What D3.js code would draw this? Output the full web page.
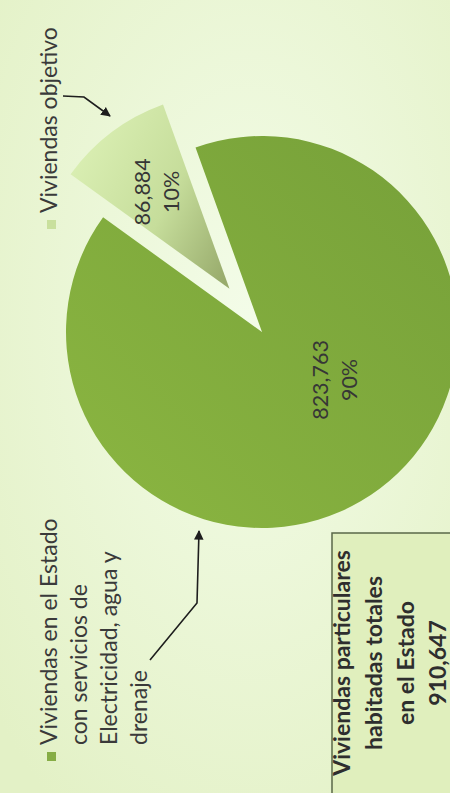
<!DOCTYPE html>
<html><head><meta charset="utf-8">
<script src="https://cdn.jsdelivr.net/npm/d3@7"></script>
<style>html,body{margin:0;padding:0;background:#edf8da;overflow:hidden} svg{display:block}</style>
</head><body>
<svg id="chart" width="450" height="793"></svg>
<script>
// ---- data ----
const categories = ["Viviendas en el Estado con servicios de Electricidad, agua y drenaje", "Viviendas objetivo"];
const values = [823763, 86884];
const valueLabels = ["823,763", "86,884"];
const percentLabels = ["90%", "10%"];
const legendLines1 = ["Viviendas en el Estado", "con servicios de", "Electricidad, agua y", "drenaje"];
const legendLines2 = ["Viviendas objetivo"];
const totalLines = ["Viviendas particulares", "habitadas totales", "en el Estado", "910,647"];

// ---- layout ----
const W = 450, H = 793;
const cx = 262, cy = 332, R = 196, explode = 54;
const midSmallDeg = 323;
const FONT = "Lato, 'Open Sans', 'DejaVu Sans', sans-serif";
const sliceColors = ["url(#gMain)", "url(#gLight)"];
const legendColors = ["#86ad45", "#c9e09d"];

const svg = d3.select("#chart");
const defs = svg.append("defs");

const bg = defs.append("radialGradient").attr("id", "bg").attr("cx", "55%").attr("cy", "40%").attr("r", "75%");
bg.append("stop").attr("offset", "0%").attr("stop-color", "#f3fce8");
bg.append("stop").attr("offset", "100%").attr("stop-color", "#e3f1c6");

const gm = defs.append("linearGradient").attr("id", "gMain").attr("x1", 0).attr("y1", 1).attr("x2", 1).attr("y2", 0);
gm.append("stop").attr("offset", "0%").attr("stop-color", "#8bb641");
gm.append("stop").attr("offset", "100%").attr("stop-color", "#76a039");

const gl = defs.append("linearGradient").attr("id", "gLight").attr("x1", 0).attr("y1", 0.3).attr("x2", 1).attr("y2", 0.9);
gl.append("stop").attr("offset", "0%").attr("stop-color", "#daefb3");
gl.append("stop").attr("offset", "55%").attr("stop-color", "#c6dd9b");
gl.append("stop").attr("offset", "100%").attr("stop-color", "#98ab6c");

const mk = defs.append("marker").attr("id", "arrow").attr("viewBox", "0 0 10 10")
  .attr("refX", 9).attr("refY", 5).attr("markerWidth", 6).attr("markerHeight", 6)
  .attr("markerUnits", "strokeWidth").attr("orient", "auto");
mk.append("path").attr("d", "M0,0 L10,5 L0,10 z").attr("fill", "#1e1e1e");

svg.append("rect").attr("width", W).attr("height", H).attr("fill", "url(#bg)");

// ---- pie ----
const total = d3.sum(values);
const smallAngle = 2 * Math.PI * values[1] / total;
const mid = midSmallDeg * Math.PI / 180;
const start = mid + smallAngle / 2 - 2 * Math.PI;
const pie = d3.pie().sort(null).startAngle(start).endAngle(start + 2 * Math.PI);
const arcs = pie(values);
const arc = d3.arc().innerRadius(0).outerRadius(R);
const offsets = [0, explode];

const slices = svg.append("g").attr("transform", `translate(${cx},${cy})`);
slices.selectAll("path").data(arcs).join("path")
  .attr("transform", (d, i) => {
    const a = (d.startAngle + d.endAngle) / 2;
    return `translate(${offsets[i] * Math.sin(a)},${-offsets[i] * Math.cos(a)})`;
  })
  .attr("d", arc)
  .attr("fill", (d, i) => sliceColors[i]);

// data labels (rotated -90)
const labelPos = [[cx + 80, cy + 48], null];
{
  const a = (arcs[1].startAngle + arcs[1].endAngle) / 2;
  const ox = cx + explode * Math.sin(a), oy = cy - explode * Math.cos(a);
  labelPos[1] = [ox + 0.62 * R * Math.sin(a) + 8, oy - 0.62 * R * Math.cos(a)];
}
arcs.forEach((d, i) => {
  const g = svg.append("g").attr("transform", `translate(${labelPos[i][0]},${labelPos[i][1]}) rotate(-90)`);
  [valueLabels[i], percentLabels[i]].forEach((t, j) => {
    g.append("text").attr("x", 0).attr("y", j === 0 ? -14.5 : 14.5)
      .attr("text-anchor", "middle").attr("font-family", FONT).attr("font-size", 21.5)
      .attr("fill", "#363636").text(t);
  });
});

// ---- legend ----
function legendBlock(lines, startY, color) {
  svg.append("rect").attr("x", 47).attr("y", startY + 7).attr("width", 9).attr("height", 9).attr("fill", color);
  const g = svg.append("g").attr("transform", `translate(0,${startY}) rotate(-90)`);
  lines.forEach((t, j) => {
    g.append("text").attr("x", 0).attr("y", 57 + 30 * j).attr("text-anchor", "start")
      .attr("font-family", FONT).attr("font-size", 23).attr("fill", "#3a3a3a").text(t);
  });
}
legendBlock(legendLines1, 745, legendColors[0]);
legendBlock(legendLines2, 213, legendColors[1]);

// ---- arrows ----
const line = d3.line();
svg.append("path").attr("d", line([[150, 660], [197, 603], [199, 531]]))
  .attr("fill", "none").attr("stroke", "#1e1e1e").attr("stroke-width", 1.6).attr("marker-end", "url(#arrow)");
svg.append("path").attr("d", line([[63, 96], [84, 97], [110, 116]]))
  .attr("fill", "none").attr("stroke", "#1e1e1e").attr("stroke-width", 1.6).attr("marker-end", "url(#arrow)");

// ---- total box ----
svg.append("rect").attr("x", 332).attr("y", 533).attr("width", 140).attr("height", 300)
  .attr("fill", "#e0efbd").attr("stroke", "#5a6848").attr("stroke-width", 1.5);
const tg = svg.append("g").attr("transform", `translate(398,663) rotate(-90)`);
totalLines.forEach((t, j) => {
  tg.append("text").attr("x", 0).attr("y", -48 + 32 * j).attr("text-anchor", "middle")
    .attr("font-family", FONT).attr("font-size", 23).attr("font-weight", 700)
    .attr("fill", "#2e2e2e").text(t);
});
</script>
</body></html>
